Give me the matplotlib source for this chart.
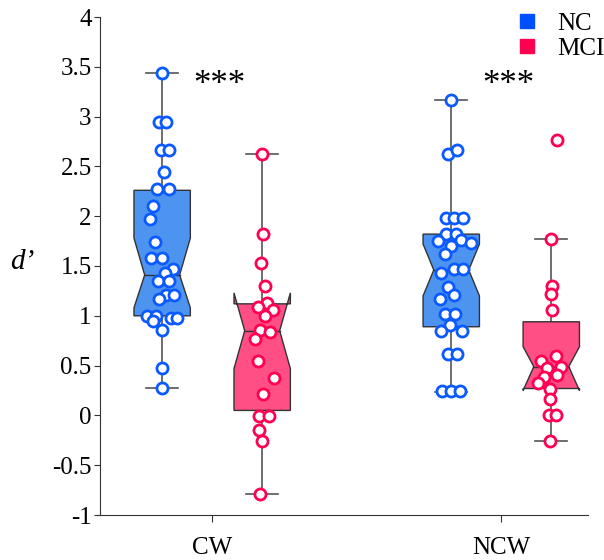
#%%
# Notched box plots of d' for NC vs MCI, CW and NCW conditions
import matplotlib
matplotlib.use('Agg')
import numpy as np
import matplotlib.pyplot as plt
from matplotlib.lines import Line2D

plt.rcParams['font.family'] = ['Liberation Serif', 'DejaVu Serif']
plt.rcParams['axes.unicode_minus'] = False

#%%
# =============================================================================
# Data
# =============================================================================
groups = ['CW', 'NCW']
series = ['NC', 'MCI']

# box stats: whislo, q1, cilo, med, cihi, q3, whishi
cw_nc_box = [0.28, 1.00, 1.08, 1.41, 1.78, 2.26, 3.44]
cw_mci_box = [-0.79, 0.05, 0.47, 0.85, 1.23, 1.12, 2.62]
ncw_nc_box = [0.23, 0.89, 1.20, 1.46, 1.72, 1.82, 3.17]
ncw_mci_box = [-0.26, 0.27, 0.25, 0.49, 0.69, 0.94, 1.77]

# individual subjects
cw_nc_pts = [3.44, 2.95, 2.95, 2.66, 2.66, 2.44, 2.27, 2.27, 2.10, 1.97,
             1.74, 1.58, 1.58, 1.47, 1.43, 1.35, 1.35, 1.21, 1.21, 1.17,
             1.00, 1.00, 0.95, 0.98, 0.98, 0.86, 0.48, 0.28]
cw_nc_jit = [0, -3.3, 4, -1, 6.7, 1.7, -5.3, 7.3, -9.3, -12,
             -7, -11, -0.3, 11.3, 3, -3.7, 7.3, 4, 12.3, -3.3,
             -15.3, -6, -9.3, 9, 14.7, 0, 0, 0]

cw_mci_pts = [2.62, 1.82, 1.53, 1.30, 1.13, 1.09, 1.06, 1.00, 0.86, 0.84,
              0.77, 0.55, 0.38, 0.21, -0.01, -0.01, -0.15, -0.26, -0.79]
cw_mci_jit = [0, 0.7, -1, 3.3, 5, -4.3, 11, 3.3, -2.3, 8.3,
              -7.3, -4, 11.7, 1, -2.7, 6.7, -3.3, 0, -1.7]

ncw_nc_pts = [3.17, 2.62, 2.66, 1.98, 1.98, 1.98, 1.82, 1.82, 1.75, 1.76,
              1.73, 1.70, 1.62, 1.43, 1.47, 1.47, 1.29, 1.21, 1.17, 1.02,
              1.02, 0.91, 0.85, 0.85, 0.62, 0.62, 0.24, 0.24, 0.24]
ncw_nc_jit = [0, -3.3, 5.3, -5.7, 2.7, 11.7, -5.7, 4.3, -13.3, 9.3,
              19.3, -0.7, -6.7, -10, 2.7, 11.7, -3.3, 2.7, -11.7, -6.7,
              3.3, -1.7, -10.7, 11, -3.3, 5.3, -9, 0, 8.3]

ncw_mci_pts = [2.77, 1.77, 1.30, 1.22, 1.06, 0.60, 0.55, 0.48, 0.49, 0.41,
               0.39, 0.33, 0.27, 0.16, 0.00, 0.00, -0.26]
ncw_mci_jit = [5.3, -0.7, 1, -0.7, 1, 5, -10, -4, 10, 6,
               -7.3, -13, -1.3, -1.3, -2.3, 5, -1.3]

yticks = [-1, -0.5, 0, 0.5, 1, 1.5, 2, 2.5, 3, 3.5, 4]
ytick_labels = ['-1', '-0.5', '0', '0.5', '1', '1.5', '2', '2.5', '3', '3.5', '4']

#%%
# =============================================================================
# Styling
# =============================================================================
fill_col = {'NC': '#4d94f0', 'MCI': '#ff4f85'}
edge_col = {'NC': '#0a5aff', 'MCI': '#ff0052'}
legend_col = {'NC': '#0050ff', 'MCI': '#ff0050'}
offset = 0.173          # NC/MCI shift from group centre
px = 1 / 289.           # one pixel in data units
box_w, notch_w, cap_w = 0.195, 0.62, 0.11
line_c = '#555555'

boxes = {('CW', 'NC'): (cw_nc_box, cw_nc_pts, cw_nc_jit),
         ('CW', 'MCI'): (cw_mci_box, cw_mci_pts, cw_mci_jit),
         ('NCW', 'NC'): (ncw_nc_box, ncw_nc_pts, ncw_nc_jit),
         ('NCW', 'MCI'): (ncw_mci_box, ncw_mci_pts, ncw_mci_jit)}


def notched_box(ax, pos, b, fc):
    """Notched box (matplotlib-style path) with a narrower waist."""
    wl, q1, cilo, med, cihi, q3, wh = b
    l, r = pos - box_w / 2, pos + box_w / 2
    nl, nr = pos - box_w * notch_w / 2, pos + box_w * notch_w / 2
    xs = [l, r, r, nr, r, r, l, l, nl, l, l]
    ys = [q1, q1, cilo, med, cihi, q3, q3, cihi, med, cilo, q1]
    ax.plot([pos, pos], [wl, q1], color=line_c, lw=1.2, zorder=1)
    ax.plot([pos, pos], [q3, wh], color=line_c, lw=1.2, zorder=1)
    for v in (wl, wh):
        ax.plot([pos - cap_w / 2, pos + cap_w / 2], [v, v], color=line_c, lw=1.2, zorder=1)
    ax.fill(xs, ys, fc=fc, ec='#333333', lw=1, zorder=2)
    ax.plot([nl, nr], [med, med], color='#333333', lw=1, zorder=2)


fig = plt.figure(figsize=(6.04, 5.6), dpi=100)
ax = fig.add_axes([100 / 604, 45 / 560, 488 / 604, 498 / 560])

for gi, g in enumerate(groups):
    for s in series:
        b, pts, jit = boxes[(g, s)]
        pos = gi + (-offset if s == 'NC' else offset)
        notched_box(ax, pos, b, fill_col[s])
        xs = pos + np.array(jit) * px
        ax.plot(xs, pts, 'o', mfc='white', mec=edge_col[s], ms=8, mew=2,
                ls='none', zorder=4)

# significance stars
for gi in range(len(groups)):
    ax.text(gi + 0.025, 3.31, '***', ha='center', va='center', fontsize=25)

ax.set_xlim(-0.388, 1.30)
ax.set_ylim(-1, 4)
ax.set_xticks(range(len(groups)))
ax.set_xticklabels(groups, fontsize=18)
ax.set_yticks(yticks)
ax.set_yticklabels(ytick_labels, fontsize=18)
ax.tick_params(axis='x', length=5, pad=11, color='#333333')
ax.tick_params(axis='y', length=4, pad=2, color='#333333')
for sp in ['top', 'right']:
    ax.spines[sp].set_visible(False)
for sp in ['left', 'bottom']:
    ax.spines[sp].set_color('#333333')

fig.text(22 / 604, 1 - 262 / 560, 'd\u2019', ha='center', va='center',
         fontsize=21, style='italic')

handles = [Line2D([], [], marker='s', ls='none', color=legend_col[s], ms=9.5)
           for s in series]
fig.legend(handles, series, loc='upper left', bbox_to_anchor=(492 / 604, 1.018),
           frameon=False, fontsize=18, handletextpad=0.7, labelspacing=0.1,
           handlelength=1.0)

fig.savefig('out.png', dpi=100)
